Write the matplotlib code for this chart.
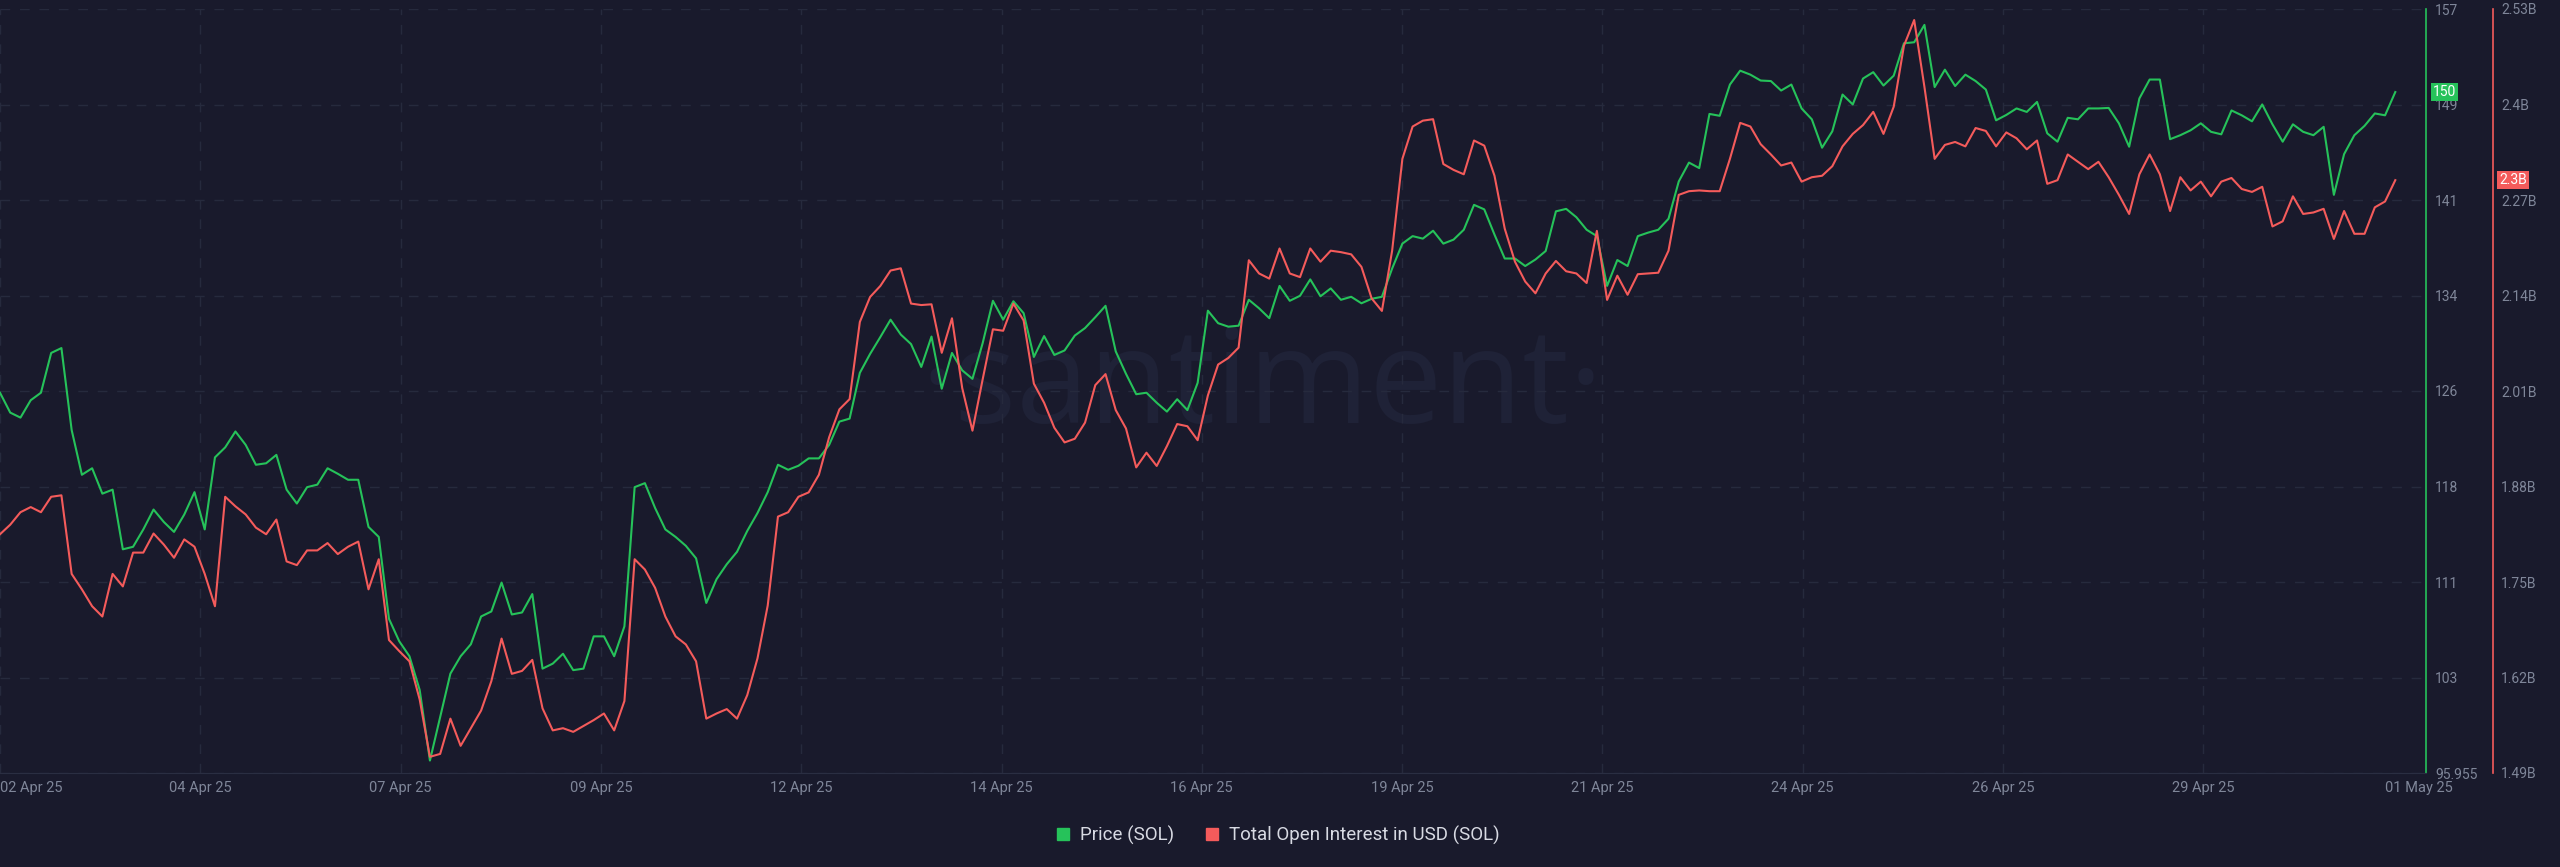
import numpy as np
import pandas as pd
import matplotlib
matplotlib.use('Agg')
import matplotlib.pyplot as plt
import matplotlib.dates as mdates
from matplotlib.lines import Line2D

# SOL price (USD), 3-hourly from 02 Apr 25 05:00
price = [
    126.36, 124.77, 124.37, 125.76, 126.36, 129.54, 129.93, 123.38, 119.80, 120.32,
    118.29, 118.61, 113.84, 114.04, 115.43, 117.02, 116.03, 115.23, 116.62, 118.41,
    115.43, 121.19, 121.99, 123.26, 122.19, 120.60, 120.72, 121.39, 118.61, 117.50,
    118.81, 119.01, 120.32, 119.88, 119.40, 119.40, 115.63, 114.83, 108.28, 106.49,
    105.29, 102.59, 96.95, 100.41, 103.90, 105.29, 106.25, 108.47, 108.87, 111.18,
    108.63, 108.79, 110.26, 104.30, 104.70, 105.49, 104.18, 104.30, 106.88, 106.88,
    105.29, 107.68, 118.81, 119.13, 117.14, 115.43, 114.83, 114.12, 113.12, 109.55,
    111.45, 112.65, 113.64, 115.31, 116.74, 118.41, 120.60, 120.20, 120.52, 121.11,
    121.11, 122.19, 124.05, 124.29, 127.95, 129.46, 130.81, 132.20, 131.01, 130.25,
    128.42, 130.85, 126.68, 129.54, 128.15, 127.47, 130.33, 133.71, 132.20, 133.67,
    132.72, 129.22, 130.89, 129.38, 129.74, 130.93, 131.53, 132.40, 133.31, 129.66,
    127.87, 126.24, 126.36, 125.56, 124.85, 125.84, 124.97, 127.15, 132.92, 131.92,
    131.64, 131.72, 133.79, 133.11, 132.32, 134.90, 133.71, 134.11, 135.42, 134.07,
    134.70, 133.79, 134.03, 133.51, 133.87, 134.03, 136.29, 138.28, 138.88, 138.68,
    139.31, 138.28, 138.60, 139.39, 141.38, 141.02, 139.00, 137.09, 137.09, 136.49,
    137.01, 137.69, 140.86, 141.06, 140.39, 139.39, 138.88, 134.90, 136.97, 136.49,
    138.88, 139.16, 139.39, 140.27, 143.25, 144.76, 144.32, 148.65, 148.50, 151.00,
    152.11, 151.79, 151.32, 151.28, 150.52, 151.00, 149.09, 148.22, 145.95, 147.26,
    150.20, 149.41, 151.48, 151.99, 150.92, 151.71, 154.30, 154.38, 155.77, 150.80,
    152.19, 150.88, 151.79, 151.28, 150.60, 148.14, 148.57, 149.09, 148.81, 149.61,
    147.10, 146.43, 148.34, 148.22, 149.09, 149.09, 149.13, 147.90, 146.03, 149.89,
    151.40, 151.40, 146.63, 146.95, 147.34, 147.90, 147.22, 147.02, 148.93, 148.54,
    148.06, 149.41, 147.82, 146.43, 147.82, 147.22, 146.95, 147.62, 142.18, 145.44,
    146.95, 147.70, 148.69, 148.54, 150.40,
]

# total open interest in USD (billions), same timestamps
open_interest = [
    1.815, 1.828, 1.845, 1.852, 1.845, 1.866, 1.868, 1.761, 1.740, 1.717,
    1.703, 1.761, 1.744, 1.790, 1.790, 1.816, 1.801, 1.783, 1.808, 1.798,
    1.761, 1.717, 1.866, 1.853, 1.842, 1.824, 1.815, 1.835, 1.778, 1.773,
    1.793, 1.793, 1.803, 1.788, 1.798, 1.805, 1.740, 1.781, 1.671, 1.656,
    1.642, 1.590, 1.512, 1.516, 1.564, 1.527, 1.551, 1.575, 1.615, 1.673,
    1.625, 1.629, 1.644, 1.578, 1.548, 1.551, 1.546, 1.554, 1.562, 1.571,
    1.548, 1.588, 1.781, 1.767, 1.742, 1.703, 1.676, 1.665, 1.642, 1.564,
    1.571, 1.577, 1.564, 1.596, 1.646, 1.718, 1.839, 1.845, 1.866, 1.872,
    1.896, 1.947, 1.985, 1.999, 2.104, 2.138, 2.153, 2.174, 2.177, 2.129,
    2.127, 2.128, 2.062, 2.109, 2.014, 1.956, 2.026, 2.094, 2.092, 2.129,
    2.106, 2.020, 1.994, 1.960, 1.940, 1.945, 1.967, 2.018, 2.033, 1.984,
    1.959, 1.906, 1.926, 1.908, 1.935, 1.965, 1.962, 1.943, 2.004, 2.046,
    2.055, 2.069, 2.188, 2.170, 2.163, 2.204, 2.170, 2.165, 2.204, 2.186,
    2.201, 2.199, 2.196, 2.179, 2.136, 2.119, 2.201, 2.326, 2.370, 2.378,
    2.380, 2.319, 2.311, 2.305, 2.351, 2.344, 2.303, 2.231, 2.186, 2.159,
    2.143, 2.170, 2.187, 2.173, 2.170, 2.157, 2.228, 2.134, 2.167, 2.141,
    2.169, 2.170, 2.171, 2.201, 2.277, 2.282, 2.283, 2.282, 2.282, 2.326,
    2.375, 2.370, 2.346, 2.332, 2.317, 2.321, 2.295, 2.301, 2.303, 2.316,
    2.343, 2.360, 2.372, 2.390, 2.360, 2.397, 2.480, 2.515, 2.424, 2.326,
    2.345, 2.349, 2.343, 2.368, 2.364, 2.343, 2.362, 2.354, 2.339, 2.351,
    2.292, 2.297, 2.332, 2.322, 2.312, 2.322, 2.301, 2.277, 2.251, 2.305,
    2.332, 2.305, 2.255, 2.301, 2.283, 2.295, 2.275, 2.295, 2.300, 2.285,
    2.281, 2.288, 2.234, 2.241, 2.275, 2.251, 2.253, 2.258, 2.217, 2.255,
    2.224, 2.224, 2.260, 2.268, 2.297,
]

date_labels = ['02 Apr 25', '04 Apr 25', '07 Apr 25', '09 Apr 25', '12 Apr 25', '14 Apr 25',
               '16 Apr 25', '19 Apr 25', '21 Apr 25', '24 Apr 25', '26 Apr 25', '29 Apr 25',
               '01 May 25']
price_tick_labels = ['95.955', '103', '111', '118', '126', '134', '141', '149', '157']
oi_tick_labels = ['1.49B', '1.62B', '1.75B', '1.88B', '2.01B', '2.14B', '2.27B', '2.4B', '2.53B']

BG = '#191a2c'
GRID = '#262a3d'
LABEL = '#7f8699'
GREEN = '#26c25a'
RED = '#f45b5b'

plt.rcParams['lines.scale_dashes'] = False
plt.rcParams['font.family'] = ['Roboto', 'DejaVu Sans']

times = pd.date_range('2025-04-02 05:00', periods=len(price), freq='3h')

fig = plt.figure(figsize=(25.6, 8.67), dpi=100, facecolor=BG)
ax = fig.add_axes([0, 1 - 773 / 867, 2426 / 2560, 764 / 867])
ax.set_facecolor(BG)

# watermark
ax.text(0.52, 0.458, '·santiment·', transform=ax.transAxes, ha='center', va='baseline',
        fontsize=94, color='#1f2237', family='Open Sans', zorder=0)

ax.plot(times, price, color=GREEN, lw=1.5, zorder=3)
ax2 = ax.twinx()
ax2.plot(times, open_interest, color=RED, lw=1.5, zorder=3)

xmin = mdates.date2num(times[0])
xmax = mdates.date2num(times[0] + pd.Timedelta(hours=3 * 237))
ax.set_xlim(xmin, xmax)
ax.set_ylim(95.955, 157.04)
ax2.set_ylim(1.49, 2.53)

# date ticks sit at evenly spaced screen positions
tick_frac = [k * 200.3 / 2426 for k in range(12)] + [2419 / 2426]
ax.set_xticks([xmin + f * (xmax - xmin) for f in tick_frac], date_labels)
ax.get_xticklabels()[0].set_ha('left')
ax.tick_params(axis='x', length=0, pad=6, labelcolor=LABEL, labelsize=10.5)
for lab in ax.get_xticklabels():
    lab.set_family(['Liberation Sans Narrow', 'Roboto'])

ax.set_yticks(np.linspace(95.955, 157.04, 9), price_tick_labels)
ax.yaxis.tick_right()
ax.tick_params(axis='y', length=0, pad=6.5, labelcolor=LABEL, labelsize=10)
ax2.set_yticks(np.linspace(1.49, 2.53, 9), oi_tick_labels)
ax2.tick_params(axis='y', length=0, pad=6, labelcolor=LABEL, labelsize=10)

ax.grid(True, color=GRID, linestyle=(0, (7, 7)), linewidth=1, zorder=0)
ax.xaxis.get_gridlines()[-1].set_visible(False)

for s in ['top', 'left']:
    ax.spines[s].set_visible(False)
ax.spines['bottom'].set_color('#2a2e42')
ax.spines['right'].set_color(GREEN)
ax.spines['right'].set_linewidth(1.2)
for s in ['top', 'left', 'bottom']:
    ax2.spines[s].set_visible(False)
ax2.spines['right'].set_position(('axes', 2493 / 2426))
ax2.spines['right'].set_color(RED)
ax2.spines['right'].set_linewidth(1.2)

# last value badges
ax.annotate(f'{price[-1]:.0f}', xy=(1, price[-1]), xycoords=('axes fraction', 'data'),
            xytext=(5, 0), textcoords='offset points', ha='left', va='center',
            color='white', fontsize=10, zorder=5,
            bbox=dict(boxstyle='square,pad=0.15', fc=GREEN, ec='none'))
ax2.annotate(f'{open_interest[-1]:.1f}B', xy=(2493 / 2426, open_interest[-1]),
             xycoords=('axes fraction', 'data'), xytext=(4.5, 0), textcoords='offset points',
             ha='left', va='center', color='white', fontsize=10, zorder=5,
             bbox=dict(boxstyle='square,pad=0.15', fc=RED, ec='none'))

handles = [Line2D([], [], marker='s', ls='', color=GREEN, markersize=8),
           Line2D([], [], marker='s', ls='', color=RED, markersize=8)]
fig.legend(handles, ['Price (SOL)', 'Total Open Interest in USD (SOL)'], loc='center',
           bbox_to_anchor=(0.499, 1 - 835 / 867), ncol=2, frameon=False, fontsize=13.5,
           labelcolor='#d8dae3', handlelength=0.8, handletextpad=0.5, columnspacing=1.6)

fig.savefig('out.png', dpi=100, facecolor=BG)
